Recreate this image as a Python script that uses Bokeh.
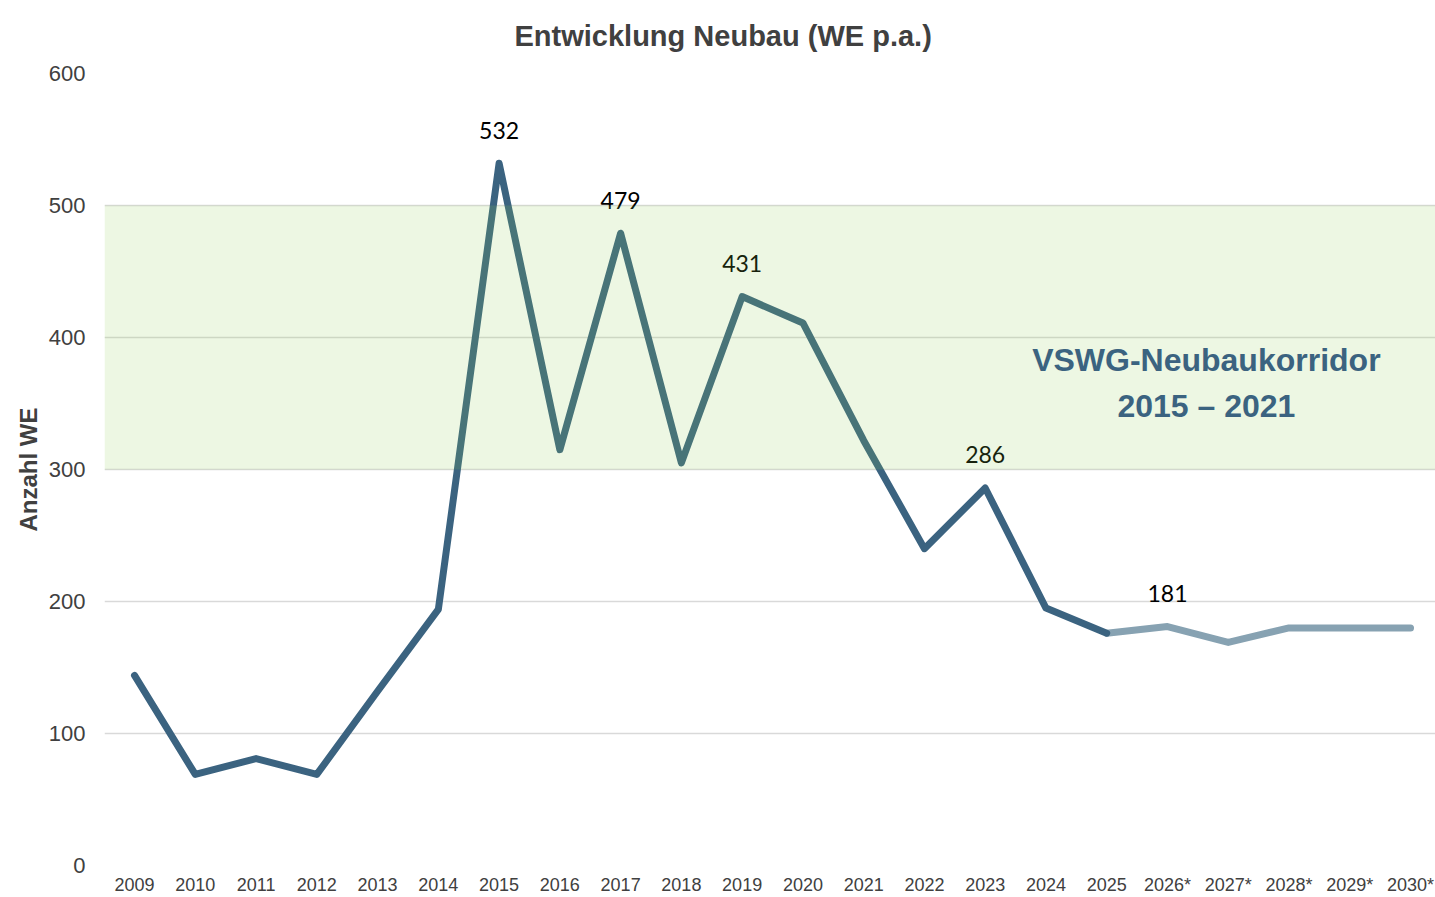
from bokeh.plotting import figure
from bokeh.models import BoxAnnotation, FixedTicker, Label, ColumnDataSource, Range1d
from bokeh.embed import file_html
from bokeh.resources import INLINE
from bokeh.core.properties import value

# ---- data ----
years = ["2009", "2010", "2011", "2012", "2013", "2014", "2015", "2016", "2017",
         "2018", "2019", "2020", "2021", "2022", "2023", "2024", "2025",
         "2026*", "2027*", "2028*", "2029*", "2030*"]
actual_years = years[:17]
actual_values = [144, 69, 81, 69, 132, 194, 532, 315, 479, 305, 431, 411, 322,
                 240, 286, 195, 176]
forecast_years = ["2025", "2026*", "2027*", "2028*", "2029*", "2030*"]
forecast_values = [176, 181, 169, 180, 180, 180]
label_years = ["2015", "2017", "2019", "2023", "2026*"]
label_values = [532, 479, 431, 286, 181]
band_low, band_high = 300, 500
y_ticks = [0, 100, 200, 300, 400, 500, 600]
title_text = "Entwicklung Neubau (WE p.a.)"

pos = {y: i for i, y in enumerate(years)}

AXIS_FONT = "Liberation Sans"
DARK = "#3b6380"
LIGHT = "#87a2b2"
TEXT = "#404040"

p = figure(width=1435, height=897,
           x_range=Range1d(-0.494, 21.411), y_range=Range1d(0, 600),
           output_backend="svg", toolbar_location=None,
           min_border_left=104, min_border_right=0,
           min_border_top=72, min_border_bottom=31)

p.title.text = title_text
p.title.text_font = AXIS_FONT
p.title.text_font_style = "bold"
p.title.text_font_size = "29px"
p.title.text_color = TEXT
p.title.align = "left"
p.title.offset = 410
p.title.vertical_align = "top"
p.title.standoff = 39

p.outline_line_color = None
p.background_fill_color = "white"
p.border_fill_color = "white"

p.xgrid.visible = False
p.ygrid.grid_line_color = "#d9d9d9"
p.ygrid.grid_line_width = 1.6

p.xaxis.ticker = FixedTicker(ticks=list(range(len(years))))
p.xaxis.major_label_overrides = {i: y for i, y in enumerate(years)}
p.yaxis.ticker = FixedTicker(ticks=y_ticks)

for ax in (p.xaxis[0], p.yaxis[0]):
    ax.axis_line_color = None
    ax.major_tick_line_color = None
    ax.minor_tick_line_color = None
    ax.major_label_text_font = AXIS_FONT
    ax.major_label_text_color = TEXT

p.xaxis.major_label_text_font_size = "18px"
p.xaxis.major_label_standoff = 3
p.yaxis.major_label_text_font_size = "22px"
p.yaxis.major_label_standoff = 13
p.yaxis.axis_label = "Anzahl WE"
p.yaxis.axis_label_text_font = AXIS_FONT
p.yaxis.axis_label_text_font_style = "bold"
p.yaxis.axis_label_text_font_size = "24px"
p.yaxis.axis_label_text_color = TEXT
p.yaxis.axis_label_standoff = 4

# lines
p.line([pos[y] for y in forecast_years], forecast_values, line_color=LIGHT,
       line_width=7, line_join="round", line_cap="round")
p.line([pos[y] for y in actual_years], actual_values, line_color=DARK,
       line_width=7, line_join="round", line_cap="round")

# band overlay (translucent, drawn above line)
p.add_layout(BoxAnnotation(bottom=band_low, top=band_high,
                           fill_color="#92d050", fill_alpha=0.16,
                           line_color=None))

# data labels
src = ColumnDataSource(dict(x=[pos[y] for y in label_years], y=label_values,
                            t=[str(v) for v in label_values]))
p.text(x="x", y="y", text="t", source=src, y_offset=-33,
       text_align="center", text_baseline="middle",
       text_font=value("Lato"), text_font_size="23px", text_color="#000000")

# corridor annotation
p.add_layout(Label(x=17.64, y=383, text="VSWG-Neubaukorridor",
                   text_font=AXIS_FONT, text_font_style="bold",
                   text_font_size="32px", text_color=DARK,
                   text_align="center", text_baseline="middle"))
p.add_layout(Label(x=17.64, y=348, text="2015 \u2013 2021",
                   text_font=AXIS_FONT, text_font_style="bold",
                   text_font_size="32px", text_color=DARK,
                   text_align="center", text_baseline="middle"))

open("out.html", "w").write(file_html(p, INLINE))
